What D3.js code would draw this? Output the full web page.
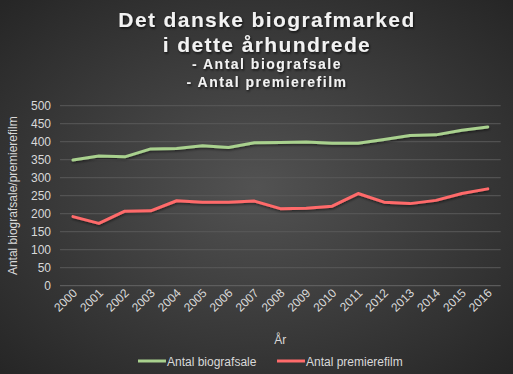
<!DOCTYPE html>
<html><head><meta charset="utf-8">
<script src="https://cdn.jsdelivr.net/npm/d3@7"></script>
<style>html,body{margin:0;padding:0;background:#333;}svg{display:block;}</style>
</head><body>
<script>
const years = ["2000","2001","2002","2003","2004","2005","2006","2007","2008","2009","2010","2011","2012","2013","2014","2015","2016"];
const biografsale = [349,360,358,380,381,389,384,397,398,399,396,396,406,417,419,432,441];
const premierefilm = [192,173,207,208,236,232,232,235,214,215,221,256,232,228,237,256,269];
const yTicks = [0,50,100,150,200,250,300,350,400,450,500];
const seriesNames = ["Antal biografsale","Antal premierefilm"];
const seriesColors = ["#a9d18e","#ff6b6b"];
const titleLines = ["Det danske biografmarked","i dette århundrede","- Antal biografsale","- Antal premierefilm"];

const W = 513, H = 374;
const svg = d3.select("body").append("svg").attr("width", W).attr("height", H);
const defs = svg.append("defs");
const grad = defs.append("radialGradient").attr("id","bg").attr("cx","50%").attr("cy","50%").attr("r","70%");
grad.append("stop").attr("offset","0%").attr("stop-color","#525252");
grad.append("stop").attr("offset","100%").attr("stop-color","#262626");
const sh = defs.append("filter").attr("id","shadow").attr("x","-10%").attr("y","-30%").attr("width","120%").attr("height","160%");
sh.append("feDropShadow").attr("dx",1).attr("dy",1.5).attr("stdDeviation",1.2).attr("flood-color","#000").attr("flood-opacity",0.7);
const lsh = defs.append("filter").attr("id","lshadow").attr("x","-5%").attr("y","-20%").attr("width","110%").attr("height","140%");
lsh.append("feDropShadow").attr("dx",0.5).attr("dy",1.5).attr("stdDeviation",1).attr("flood-color","#000").attr("flood-opacity",0.5);

svg.append("rect").attr("width",W).attr("height",H).attr("fill","url(#bg)");

const m = {left:60, right:12.3, top:105.7, bottom:88.3};
const x = d3.scaleBand().domain(years).range([m.left, W - m.right]);
const y = d3.scaleLinear().domain([0,500]).range([H - m.bottom, m.top]);

// gridlines
svg.append("g").selectAll("line").data(yTicks).join("line")
  .attr("x1", m.left).attr("x2", W - m.right)
  .attr("y1", d => y(d)).attr("y2", d => y(d))
  .attr("stroke", d => d === 0 ? "#666" : "#595959").attr("stroke-width", 1);

// y axis labels
const yAxis = d3.axisLeft(y).tickValues(yTicks).tickSize(0).tickPadding(0);
const gy = svg.append("g").attr("transform", `translate(${m.left-9},0)`).call(yAxis);
gy.select(".domain").remove();
gy.selectAll("text").attr("fill","#d9d9d9").attr("font-family","Liberation Sans, Arial, sans-serif").attr("font-size","12px");

// x axis labels
const xAxis = d3.axisBottom(x).tickSize(0).tickPadding(0);
const gx = svg.append("g").attr("transform", `translate(0,${H - m.bottom})`).call(xAxis);
gx.select(".domain").remove();
gx.selectAll("text").attr("fill","#d9d9d9").attr("font-family","Liberation Sans, Arial, sans-serif").attr("font-size","12px")
  .attr("text-anchor","end").attr("dy",null).attr("y",0)
  .attr("transform","translate(5,8) rotate(-45)");

// lines
const line = d3.line().x((d,i) => x(years[i]) + x.bandwidth()/2).y(d => y(d));
[biografsale, premierefilm].forEach((s, k) => {
  svg.append("path").datum(s).attr("d", line).attr("fill","none")
    .attr("stroke", seriesColors[k]).attr("stroke-width", 3).attr("stroke-linejoin","round").attr("stroke-linecap","round")
    .attr("filter","url(#lshadow)");
});

// title
const tg = svg.append("g").attr("filter","url(#shadow)").attr("fill","#f2f2f2")
  .attr("font-family","Liberation Sans, Arial, sans-serif").attr("font-weight","bold").attr("text-anchor","middle");
const tys = [27, 52, 69, 87];
const tsz = [21, 21, 14, 14];
const tls = [1.4, 1.4, 1.5, 1.5];
titleLines.forEach((t,i) => {
  tg.append("text").attr("x", 267).attr("y", tys[i]).attr("font-size", tsz[i] + "px").attr("letter-spacing", tls[i]).text(t);
});

// axis titles
svg.append("text").attr("transform", `translate(17,${(m.top + H - m.bottom)/2}) rotate(-90)`).attr("text-anchor","middle")
  .attr("fill","#d9d9d9").attr("font-family","Liberation Sans, Arial, sans-serif").attr("font-size","12px").text("Antal biografsale/premierefilm");
svg.append("text").attr("x", (m.left + W - m.right)/2).attr("y", 344).attr("text-anchor","middle")
  .attr("fill","#d9d9d9").attr("font-family","Liberation Sans, Arial, sans-serif").attr("font-size","12px").text("År");

// legend
const lg = svg.append("g").attr("font-family","Liberation Sans, Arial, sans-serif").attr("font-size","12px").attr("fill","#d9d9d9");
const legX = [138, 277];
seriesNames.forEach((n,k) => {
  lg.append("line").attr("x1", legX[k]).attr("x2", legX[k] + 28).attr("y1", 361).attr("y2", 361)
    .attr("stroke", seriesColors[k]).attr("stroke-width", 3);
  lg.append("text").attr("x", legX[k] + 29).attr("y", 365.5).text(n);
});
</script>
</body></html>
